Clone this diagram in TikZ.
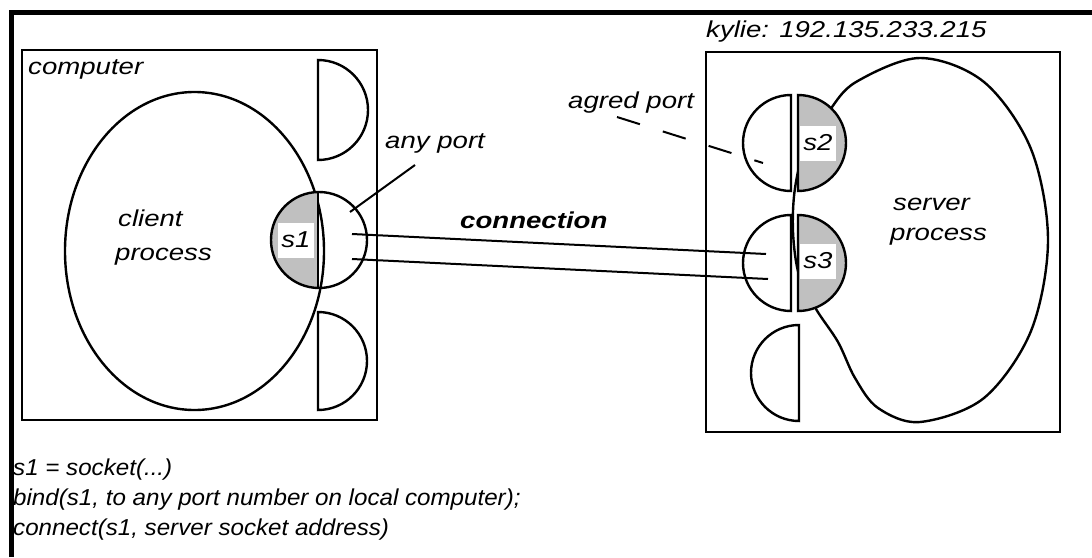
\documentclass[tikz,border=0pt]{standalone}
\usepackage{fontspec}
\setmainfont{Liberation Sans}
\newfontfamily\lblfont[FakeStretch=1.2]{Liberation Sans}
\newfontfamily\codefont[FakeStretch=1.05]{Liberation Sans}
\definecolor{sockgray}{RGB}{192,192,192}
\begin{document}
\begin{tikzpicture}[x=1pt,y=1pt,
  box/.style={draw,line width=2pt},
  shape line/.style={draw,line width=2.4pt},
  lbl/.style={inner sep=0pt,anchor=base west,font=\lblfont\fontsize{23}{23}\selectfont\itshape},
  code/.style={inner sep=0pt,anchor=base west,font=\codefont\fontsize{23}{23}\selectfont\itshape},
  tag/.style={fill=white,inner sep=0pt,minimum width=36pt,minimum height=35pt,font=\lblfont\fontsize{23}{23}\selectfont\itshape},
  wire/.style={line width=2pt}]
\useasboundingbox (0,0) rectangle (1092,-557);
% outer frame (open at right and bottom)
\draw[line width=5pt,line join=miter] (11,-557) -- (11,-12) -- (1092,-12);

% ---------- client computer ----------
\draw[box] (22,-50) rectangle (377,-420);
\node[lbl] (comp) at (28,-74) {computer};
\draw[shape line] (194.5,-251) ellipse [x radius=129.5, y radius=159];
\node[lbl] (cl1) at (118,-226) {client};
\node[lbl] (cl2) at (115,-260) {process};
% spare ports
\draw[shape line] (318,-60) arc[start angle=90,end angle=-90,radius=50] -- cycle;
\draw[shape line] (318,-312) arc[start angle=90,end angle=-90,radius=49] -- cycle;
% socket s1
\fill[sockgray] (318,-192) arc[start angle=90,end angle=270,radius=48] -- cycle;
\node[tag] (s1) at (296,-240) {s1};
\draw[shape line] (319,-240) circle (48);
\draw[shape line] (318,-192) -- (318,-288);
\coordinate (ap1) at (350,-212);
\coordinate (ap2) at (415,-165);
\draw[wire] (ap1) -- (ap2);
\node[lbl] (anyport) at (385,-148) {any port};

% ---------- server computer ----------
\draw[box] (706,-52) rectangle (1060,-432);
\node[lbl] (host) at (706,-37) {kylie: 192.135.233.215};
\draw[shape line] plot[smooth cycle,tension=0.55] coordinates {
  (920,-58) (984,-82) (1031,-149) (1048,-240) (1031,-331) (984,-398) (920,-422)
  (878,-408) (855,-378) (838,-342) (816,-309) (799,-275) (793,-232) (795,-188)
  (806,-145) (829,-111) (856,-82)};
\node[lbl] (sv1) at (893,-210) {server};
\node[lbl] (sv2) at (890,-240) {process};
% spare port
\draw[shape line] (799,-325) arc[start angle=90,end angle=270,radius=48] -- cycle;
% socket s2 (agreed port)
\draw[shape line] (791,-95) arc[start angle=90,end angle=270,radius=48] -- cycle;
\filldraw[shape line,fill=sockgray] (798,-191) arc[start angle=-90,end angle=90,radius=48] -- cycle;
\node[tag] (s2) at (818,-143) {s2};
% socket s3
\draw[shape line] (791,-215) arc[start angle=90,end angle=270,radius=48] -- cycle;
\filldraw[shape line,fill=sockgray] (798,-311) arc[start angle=-90,end angle=90,radius=48] -- cycle;
\node[tag] (s3) at (818,-261) {s3};
\coordinate (ag1) at (617,-117);
\coordinate (ag2) at (763,-163);
\draw[wire,dash pattern=on 24pt off 24pt] (ag1) -- (ag2);
\node[lbl] (agport) at (568,-108) {agred port};

% ---------- connection ----------
\coordinate (c1) at (352,-234);
\coordinate (c2) at (352,-259);
\coordinate (d1) at (766,-254);
\coordinate (d2) at (768,-279);
\draw[wire] (c1) -- (d1);
\draw[wire] (c2) -- (d2);
\node[lbl,font=\lblfont\fontsize{23}{23}\selectfont\bfseries\itshape] (conn) at (460,-228) {connection};

% ---------- code ----------
\node[code] (code1) at (13,-475) {s1 = socket(...)};
\node[code] (code2) at (13,-505) {bind(s1, to any port number on local computer);};
\node[code] (code3) at (13,-535) {connect(s1, server socket address)};
\end{tikzpicture}
\end{document}
